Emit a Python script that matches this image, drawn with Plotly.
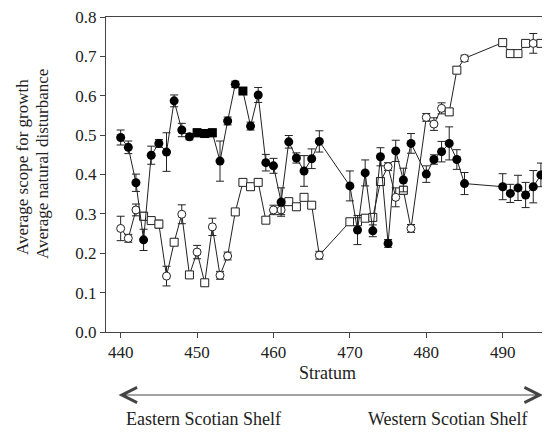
import plotly.graph_objects as go

# ---- data ----
strata = [440, 441, 442, 443, 444, 445, 446, 447, 448, 449, 450, 451, 452, 453, 454,
          455, 456, 457, 458, 459, 460, 461, 462, 463, 464, 465, 466,
          470, 471, 472, 473, 474, 475, 476, 477, 478,
          480, 481, 482, 483, 484, 485,
          490, 491, 492, 493, 494, 495]

scope_growth = [0.494, 0.469, 0.379, 0.234, 0.449, 0.479, 0.457, 0.587, 0.513, 0.496,
                0.506, 0.504, 0.506, 0.434, 0.536, 0.629, 0.612, 0.523, 0.602, 0.430,
                0.422, 0.330, 0.483, 0.442, 0.409, 0.440, 0.484,
                0.371, 0.259, 0.404, 0.257, 0.445, 0.225, 0.460, 0.386, 0.479,
                0.401, 0.438, 0.458, 0.479, 0.438, 0.377,
                0.369, 0.352, 0.366, 0.348, 0.369, 0.399]
scope_err = [0.019, 0.016, 0.022, 0.027, 0.023, 0.010, 0.049, 0.015, 0.017, 0.008,
             0.010, 0.010, 0.010, 0.051, 0.010, 0.008, 0.005, 0.010, 0.019, 0.021,
             0.019, 0.036, 0.016, 0.013, 0.039, 0.025, 0.027,
             0.038, 0.037, 0.033, 0.015, 0.023, 0.010, 0.027, 0.030, 0.025,
             0.021, 0.012, 0.026, 0.042, 0.025, 0.028,
             0.033, 0.023, 0.032, 0.032, 0.041, 0.030]

disturbance = [0.263, 0.238, 0.310, 0.294, 0.283, 0.274, 0.142, 0.228, 0.299, 0.145,
               0.203, 0.125, 0.267, 0.144, 0.193, 0.305, 0.380, 0.369, 0.380, 0.284,
               0.310, 0.310, 0.331, 0.318, 0.342, 0.322, 0.195,
               0.280, 0.280, 0.289, 0.291, 0.382, 0.420, 0.342, 0.360, 0.263,
               0.545, 0.528, 0.568, 0.559, 0.665, 0.695,
               0.735, 0.707, 0.707, 0.733, 0.733, 0.733]
disturbance_err = [0.031, 0.010, 0.015, 0.010, 0.005, 0.010, 0.025, 0.008, 0.024, 0.008,
                   0.017, 0.008, 0.022, 0.010, 0.010, 0.008, 0.008, 0.008, 0.008, 0.008,
                   0.012, 0.012, 0.008, 0.008, 0.008, 0.008, 0.010,
                   0.008, 0.008, 0.008, 0.008, 0.010, 0.010, 0.024, 0.010, 0.010,
                   0.010, 0.016, 0.014, 0.008, 0.008, 0.008,
                   0.008, 0.008, 0.008, 0.008, 0.025, 0.008]

x_ticks = [440, 450, 460, 470, 480, 490]
y_ticks = [0.0, 0.1, 0.2, 0.3, 0.4, 0.5, 0.6, 0.7, 0.8]

# ---- marker shape styling (square vs circle) ----
scope_square_strata = {450, 451, 452, 456}
dist_square_strata = {443, 444, 445, 447, 449, 451, 455, 456, 457, 458, 459, 462, 463,
                      464, 465, 470, 471, 472, 473, 474, 477, 483, 484, 490, 491, 492,
                      493, 495}
scope_symbols = ["square" if s in scope_square_strata else "circle" for s in strata]
dist_symbols = ["square" if s in dist_square_strata else "circle" for s in strata]

FONT = "Liberation Serif"
INK = "#222"

# page body has an 8px margin, so the figure is 8px smaller and shifted
W, H = 542, 425
L, R, T, B = 98, 1, 9, 101
PW, PH = W - L - R, H - T - B


def px_x(page_x):
    return (page_x - 8 - L) / PW


def px_y(page_y):
    return (H - B - (page_y - 8)) / PH


fig = go.Figure()

fig.add_trace(go.Scatter(
    x=strata, y=disturbance, mode="lines+markers",
    line=dict(color=INK, width=1),
    marker=dict(symbol=dist_symbols, size=8, color="white",
                line=dict(color=INK, width=1)),
    error_y=dict(type="data", array=disturbance_err, color=INK, thickness=1, width=4),
    showlegend=False,
))

fig.add_trace(go.Scatter(
    x=strata, y=scope_growth, mode="lines+markers",
    line=dict(color=INK, width=1),
    marker=dict(symbol=scope_symbols, size=9, color="black",
                line=dict(color="black", width=0)),
    error_y=dict(type="data", array=scope_err, color=INK, thickness=1, width=4),
    showlegend=False,
))

fig.update_layout(
    width=W, height=H,
    margin=dict(l=L, r=R, t=T, b=B, autoexpand=False),
    paper_bgcolor="white", plot_bgcolor="white",
    font=dict(family=FONT, size=17, color=INK),
    xaxis=dict(
        range=[438.08, 496.06], tickvals=x_ticks, ticks="outside", ticklen=5,
        tickcolor="#444", showline=True, linecolor="#444", linewidth=1, mirror=True,
        showgrid=False, zeroline=False, ticklabeloverflow="allow",
        title=dict(text="Stratum", font=dict(family=FONT, size=18), standoff=4),
        tickfont=dict(family=FONT, size=17),
    ),
    yaxis=dict(
        range=[0, 0.8], tickvals=y_ticks, tickformat=".1f", ticks="outside", ticklen=5,
        tickcolor="#444", showline=True, linecolor="#444", linewidth=1, mirror=True,
        showgrid=False, zeroline=False, ticklabeloverflow="allow",
        tickfont=dict(family=FONT, size=17),
    ),
    annotations=[
        dict(text="Average scope for growth", xref="paper", yref="paper",
             x=px_x(22), y=px_y(167), textangle=-90, showarrow=False,
             font=dict(family=FONT, size=17), xanchor="center", yanchor="middle"),
        dict(text="Average natural disturbance", xref="paper", yref="paper",
             x=px_x(42), y=px_y(164), textangle=-90, showarrow=False,
             font=dict(family=FONT, size=17), xanchor="center", yanchor="middle"),
        dict(text="", xref="paper", yref="paper", x=px_x(543), y=px_y(395),
             ax=-426, ay=0, axref="pixel", ayref="pixel",
             showarrow=True, arrowhead=5, startarrowhead=5, arrowside="end+start",
             arrowsize=3, startarrowsize=3, arrowwidth=1, arrowcolor="#444"),
        dict(text="Eastern Scotian Shelf", xref="paper", yref="paper",
             x=px_x(203), y=px_y(419), showarrow=False,
             font=dict(family=FONT, size=18), xanchor="center", yanchor="middle"),
        dict(text="Western Scotian Shelf", xref="paper", yref="paper",
             x=px_x(448), y=px_y(419), showarrow=False,
             font=dict(family=FONT, size=18), xanchor="center", yanchor="middle"),
    ],
)

fig.write_html("out.html")
